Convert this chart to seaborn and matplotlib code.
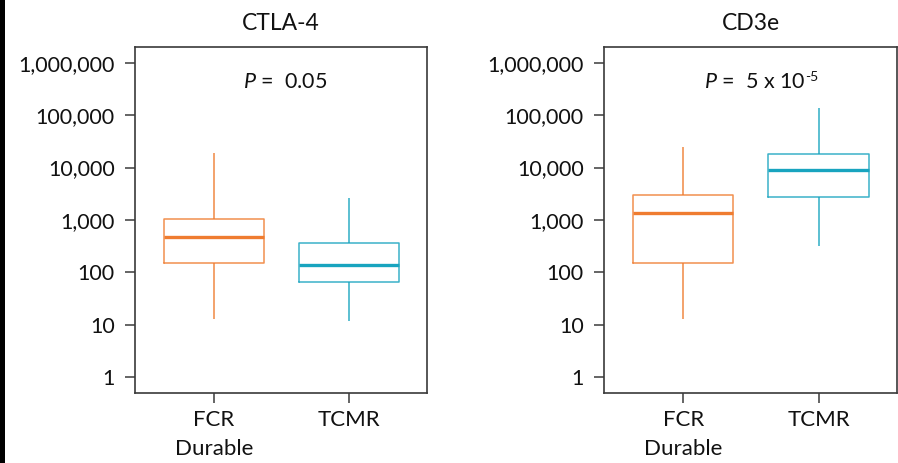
import numpy as np
import pandas as pd
import matplotlib
matplotlib.use("Agg")
import matplotlib.pyplot as plt
from matplotlib.ticker import FuncFormatter, NullLocator, FixedLocator
from matplotlib.patches import Rectangle
import seaborn as sns

# ---- data (five-number summaries) ----
panels = ["CTLA-4", "CD3e"]
groups = ["FCR\nDurable", "TCMR"]
ctla4_fcr = [13, 150, 475, 1050, 19000]
ctla4_tcmr = [12, 66, 138, 365, 2650]
cd3e_fcr = [13, 150, 1350, 3000, 25000]
cd3e_tcmr = [320, 2750, 9100, 18300, 138000]
pvalues = [(r"$\mathit{P}$ =  0.05", ""), (r"$\mathit{P}$ =  5 x 10", "-5")]
yticks = [1, 10, 100, 1000, 10000, 100000, 1000000]
colors = {"FCR\nDurable": "#EF7C30", "TCMR": "#18A4BF"}

sns.set_theme(style="white")
plt.rcParams["font.family"] = ["Lato", "DejaVu Sans"]
plt.rcParams["mathtext.fontset"] = "custom"
plt.rcParams["mathtext.rm"] = "Lato"
plt.rcParams["mathtext.it"] = "Lato:italic"

fig = plt.figure(figsize=(8.98, 4.63), dpi=100)
fig.patch.set_facecolor("white")
ax_pos = [[135 / 898, 1 - 393 / 463, 292 / 898, 346 / 463],
          [604 / 898, 1 - 393 / 463, 293 / 898, 346 / 463]]

data_sets = [(ctla4_fcr, ctla4_tcmr), (cd3e_fcr, cd3e_tcmr)]
frame = "#3a3a3a"

for i, (title, (a, b), (ptxt, pexp)) in enumerate(zip(panels, data_sets, pvalues)):
    ax = fig.add_axes(ax_pos[i])
    df = pd.DataFrame({
        "group": [groups[0]] * len(a) + [groups[1]] * len(b),
        "value": list(a) + list(b),
    })
    sns.boxplot(data=df, x="group", y="value", hue="group", palette=colors,
                order=groups, hue_order=groups, fill=False, width=0.74,
                whis=(0, 100), showcaps=False, log_scale=(False, True),
                linewidth=1.1, legend=False, ax=ax,
                medianprops=dict(linewidth=2.4),
                boxprops=dict(alpha=0.85), whiskerprops=dict(alpha=0.9))
    ax.set_ylim(10 ** -0.3, 10 ** 6.3)
    ax.set_xlim(-0.585, 1.58)
    ax.yaxis.set_major_locator(FixedLocator(yticks))
    ax.yaxis.set_minor_locator(NullLocator())
    ax.yaxis.set_major_formatter(FuncFormatter(lambda v, p: f"{int(round(v)):,}"))
    ax.set_xticks([0, 1])
    ax.set_xticklabels(groups)
    ax.set_xlabel("")
    ax.set_ylabel("")
    ax.set_title(title, fontsize=16.5, pad=12, color="#111111")
    for sp in ax.spines.values():
        sp.set_visible(True)
        sp.set_color(frame)
        sp.set_linewidth(1.2)
    ax.tick_params(axis="both", which="major", direction="out", length=7.5,
                   width=1.1, color=frame, labelcolor="#111111",
                   left=True, bottom=True)
    ax.tick_params(axis="y", pad=7, labelsize=15.5)
    ax.tick_params(axis="x", pad=5, labelsize=16)
    for lbl in ax.get_xticklabels():
        lbl.set_linespacing(1.55)
    t = ax.text(0.515, 0.899, ptxt, transform=ax.transAxes, ha="center", va="center",
                fontsize=15.5, color="#111111")
    if pexp:
        ax.annotate(pexp, xy=(1.0, 1.05), xycoords=t, xytext=(-0.5, 0),
                    textcoords="offset points", ha="left", va="top",
                    fontsize=10, color="#111111")

fig.add_artist(Rectangle((0, 0), 5 / 898, 1, transform=fig.transFigure,
                         facecolor="black", edgecolor="none"))
fig.savefig("out.png", dpi=100, facecolor="white")
